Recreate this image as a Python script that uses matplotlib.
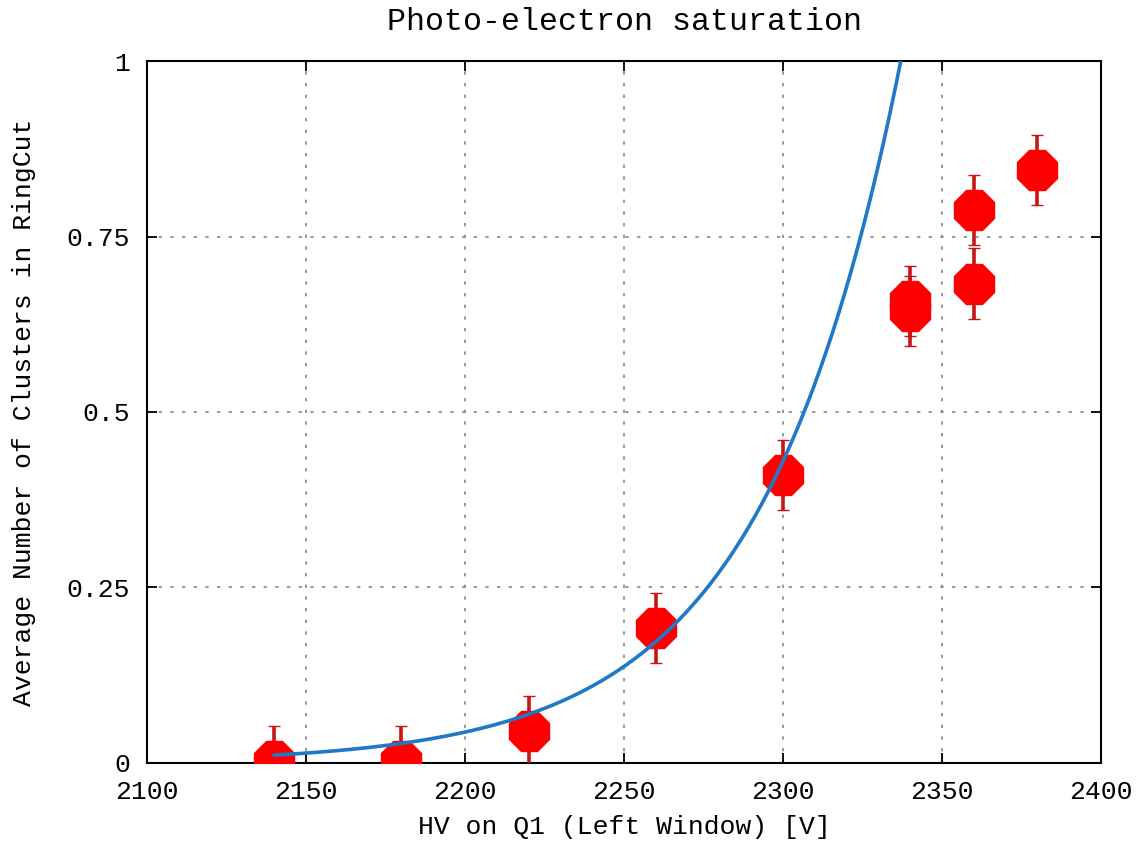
import numpy as np
import matplotlib
matplotlib.use("Agg")
import matplotlib.pyplot as plt

# Measured points: HV setting and average cluster count with its error
hv = [2140, 2180, 2220, 2260, 2300, 2340, 2340, 2360, 2360, 2380]
clusters = [0.003, 0.003, 0.046, 0.192, 0.410, 0.658, 0.644, 0.788, 0.683, 0.845]
errors = [0.05, 0.05, 0.05, 0.05, 0.05, 0.05, 0.05, 0.05, 0.05, 0.05]

# Exponential fit y = amp * exp(slope * (hv - hv_ref))
fit_amp = 0.43
fit_slope = 0.0228
hv_ref = 2300
fit_start, fit_stop = 2140, 2340

xticks = [2100, 2150, 2200, 2250, 2300, 2350, 2400]
yticks = [0, 0.25, 0.5, 0.75, 1]
ytick_labels = ["0", "0.25", "0.5", "0.75", "1"]

plt.rcParams["font.family"] = ["Liberation Mono", "DejaVu Sans Mono"]
plt.rcParams["font.size"] = 19

fig = plt.figure(figsize=(11.43, 8.44), dpi=100)
ax = fig.add_axes([0.1286, 0.096, 0.8347, 0.8317])

ax.errorbar(hv, clusters, yerr=errors, fmt="8", color="#ff0000",
            markeredgecolor="#ff0000", markeredgewidth=1,
            ecolor="#c81414", elinewidth=2.6, capsize=4, capthick=2.6,
            markersize=31, zorder=3)

xs = np.linspace(fit_start, fit_stop, 400)
ax.plot(xs, fit_amp * np.exp(fit_slope * (xs - hv_ref)),
        color="#1f78c8", linewidth=2.6, zorder=4)

ax.set_xlim(2100, 2400)
ax.set_ylim(0, 1)
ax.set_xticks(xticks)
ax.set_yticks(yticks)
ax.set_yticklabels(ytick_labels)
ax.tick_params(direction="in", length=7, width=1.3, pad=12,
               top=True, right=True)
ax.grid(True, linestyle=(0, (2, 5)), color="#888888", linewidth=1.2)
for side in ax.spines.values():
    side.set_linewidth(1.5)

ax.set_title("Photo-electron saturation", pad=22)
ax.set_xlabel("HV on Q1 (Left Window) [V]", labelpad=8)
ax.set_ylabel("Average Number of Clusters in RingCut", labelpad=22)

fig.savefig("out.png", dpi=100)
